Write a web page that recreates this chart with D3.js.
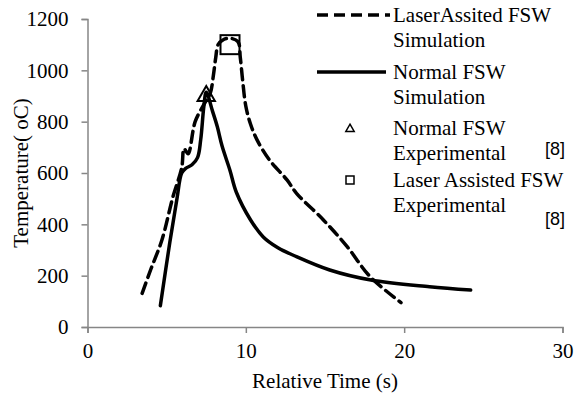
<!DOCTYPE html>
<html>
<head>
<meta charset="utf-8">
<script src="https://cdn.jsdelivr.net/npm/d3@7"></script>
<style>
  body { margin: 0; background: #fff; }
  svg { display: block; }
  svg text { font-family: "Liberation Serif", "Times New Roman", "DejaVu Serif", serif; }
  svg text.sans { font-family: "Liberation Sans", Arial, sans-serif; }
</style>
</head>
<body>
<div id="chart"></div>
<script>
// Laser assisted FSW simulation (dashed)
const laserTime = [3.45, 4.0, 4.7, 5.4, 5.95, 6.1, 6.35, 6.8, 7.4, 7.75, 7.95, 8.1, 8.25, 8.6, 9.0, 9.5, 9.65, 9.8, 10.0, 10.3, 10.7, 11.5, 12.6, 13.2, 14.9, 16.4, 17.85, 19.8];
const laserTemp = [131, 225, 339, 508, 620, 695, 675, 800, 872, 910, 980, 1050, 1100, 1120, 1125, 1112, 1050, 960, 860, 790, 730, 650, 573, 521, 417, 313, 196, 95];

// Normal FSW simulation (solid)
const normalTime = [4.6, 5.2, 5.65, 5.95, 6.2, 6.6, 6.95, 7.15, 7.35, 7.5, 7.9, 8.2, 8.5, 9.0, 9.4, 10.3, 11.1, 12.0, 13.2, 15.3, 17.9, 21.6, 24.2];
const normalTemp = [83, 330, 500, 600, 618, 632, 660, 730, 860, 915, 840, 780, 705, 610, 525, 417, 351, 310, 274, 222, 183, 157, 144];

// Experimental points [8]
const expNormal = [7.5, 900];
const expLaser = [9.0, 1100];

// Axis ticks
const xTicks = [0, 10, 20, 30];
const yTicks = [0, 200, 400, 600, 800, 1000, 1200];

const legendLabels = [
  ['LaserAssited FSW', 'Simulation'],
  ['Normal FSW', 'Simulation'],
  ['Normal FSW', 'Experimental'],
  ['Laser Assisted FSW', 'Experimental']
];

const width = 576;
const height = 396;
const fontSize = 21;
const axisGray = '#868686';

const svg = d3.select('#chart')
  .append('svg')
  .attr('width', width)
  .attr('height', height);

// Scales
const x = d3.scaleLinear().domain([0, 30]).range([87.5, 562.5]);
const y = d3.scaleLinear().domain([0, 1200]).range([327, 19]);

// Y axis
const yAxis = svg.append('g')
  .attr('transform', `translate(${x(0)},0)`)
  .call(d3.axisLeft(y).tickValues(yTicks).tickFormat(d3.format('d')).tickSize(6).tickPadding(13));

// X axis
const xAxis = svg.append('g')
  .attr('transform', `translate(0,${y(0)})`)
  .call(d3.axisBottom(x).tickValues(xTicks).tickFormat(d3.format('d')).tickSize(6).tickPadding(10));

[xAxis, yAxis].forEach(ax => {
  ax.attr('font-family', null).attr('font-size', null);
  ax.select('.domain').attr('stroke', axisGray).attr('stroke-width', 1.5);
  ax.selectAll('.tick line').attr('stroke', axisGray).attr('stroke-width', 1.5);
  ax.selectAll('.tick text')
    .attr('fill', '#000')
    .style('font-size', fontSize + 'px');
});

// Axis titles
svg.append('text')
  .attr('x', (x(0) + x(30)) / 2)
  .attr('y', 388)
  .attr('text-anchor', 'middle')
  .style('font-size', fontSize + 'px')
  .text('Relative Time (s)');

svg.append('text')
  .attr('transform', `translate(28,${(y(0) + y(1200)) / 2}) rotate(-90)`)
  .attr('text-anchor', 'middle')
  .style('font-size', fontSize + 'px')
  .text('Temperature( oC)');

// Lines
const line = d3.line()
  .x(d => x(d[0]))
  .y(d => y(d[1]))
  .curve(d3.curveCatmullRom.alpha(0.5));

const laserData = laserTime.map((t, i) => [t, laserTemp[i]]);
const normalData = normalTime.map((t, i) => [t, normalTemp[i]]);

svg.append('path')
  .datum(normalData)
  .attr('d', line)
  .attr('fill', 'none')
  .attr('stroke', '#000')
  .attr('stroke-width', 3.5)
  .attr('stroke-linecap', 'round')
  .attr('stroke-linejoin', 'round');

svg.append('path')
  .datum(laserData)
  .attr('d', line)
  .attr('fill', 'none')
  .attr('stroke', '#000')
  .attr('stroke-width', 3.5)
  .attr('stroke-dasharray', '11,6')
  .attr('stroke-linecap', 'round');

// Experimental markers
const tri = d3.symbol().type(d3.symbolTriangle);
svg.append('path')
  .attr('transform', `translate(${x(expNormal[0])},${y(expNormal[1])})`)
  .attr('d', tri.size(130)())
  .attr('fill', 'none')
  .attr('stroke', '#000')
  .attr('stroke-width', 2);

svg.append('rect')
  .attr('x', x(expLaser[0]) - 9.5)
  .attr('y', y(expLaser[1]) - 9.5)
  .attr('width', 19)
  .attr('height', 19)
  .attr('fill', 'none')
  .attr('stroke', '#000')
  .attr('stroke-width', 2);

// Legend
const legend = svg.append('g');
const entryY = [15, 72, 128, 180];
const lineGap = 24.5;

legend.append('line')
  .attr('x1', 317).attr('x2', 390)
  .attr('y1', entryY[0]).attr('y2', entryY[0])
  .attr('stroke', '#000').attr('stroke-width', 3.5)
  .attr('stroke-dasharray', '11,6');

legend.append('line')
  .attr('x1', 317).attr('x2', 386)
  .attr('y1', entryY[1]).attr('y2', entryY[1])
  .attr('stroke', '#000').attr('stroke-width', 3.5);

legend.append('path')
  .attr('transform', `translate(350,${entryY[2] + 1})`)
  .attr('d', tri.size(30)())
  .attr('fill', 'none')
  .attr('stroke', '#000')
  .attr('stroke-width', 1.5);

legend.append('rect')
  .attr('x', 346).attr('y', entryY[3] - 4)
  .attr('width', 8).attr('height', 8)
  .attr('fill', 'none')
  .attr('stroke', '#000')
  .attr('stroke-width', 1.5);

legendLabels.forEach((lines, i) => {
  lines.forEach((txt, j) => {
    legend.append('text')
      .attr('x', 393)
      .attr('y', entryY[i] + 7 + j * lineGap)
      .style('font-size', fontSize + 'px')
      .text(txt);
  });
});

// Reference tags
[155, 225].forEach(yy => {
  legend.append('text')
    .attr('class', 'sans')
    .attr('x', 545)
    .attr('y', yy)
    .style('font-size', '18px')
    .text('[8]');
});
</script>
</body>
</html>
